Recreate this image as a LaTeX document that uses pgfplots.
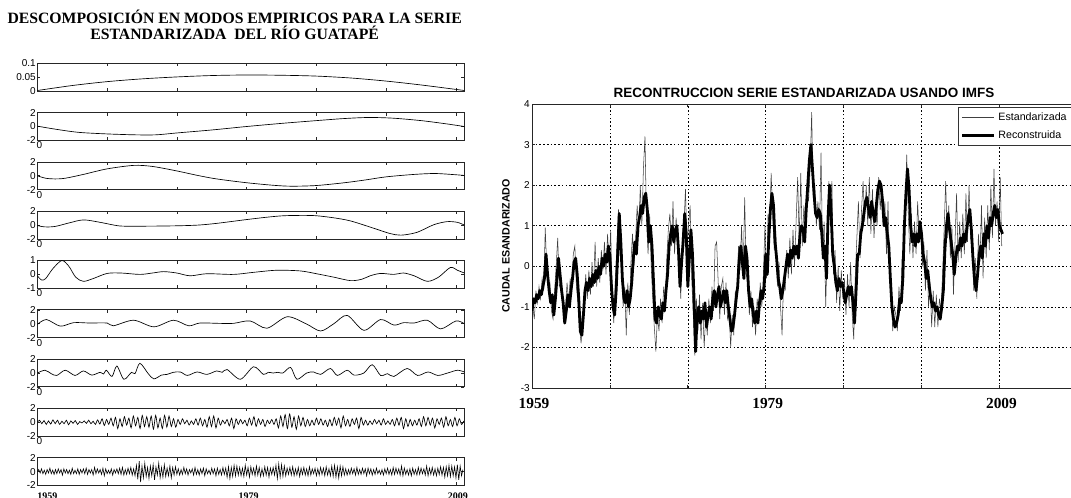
\documentclass[border=0pt]{standalone}
\usepackage{fontspec}
\setmainfont{Liberation Sans}
\newfontfamily\tnr{Liberation Serif}
\usepackage{pgfplots}
\pgfplotsset{compat=1.18}
\pgfplotsset{
  imf/.style={
    scale only axis, width=320.25pt, height=20.8pt,
    anchor=north west,
    xmin=0, xmax=612, xtick={0,100,...,600},
    tick align=inside, tick pos=both, major tick length=2.25pt,
    axis line style={line width=0.6pt, black!85},
    every tick/.style={black!85, line width=0.5pt},
    yticklabel style={font=\fontsize{7.5}{8}\selectfont, inner sep=1pt},
    xticklabel style={font=\fontsize{7.5}{8}\selectfont, inner sep=1pt, xshift=1.5pt},
    ytick={-2,0,2}, yticklabels={-2,0,2}, ymin=-2, ymax=2,
    xticklabels={0,,,,,,},
  },
  imfline/.style={black, line width=0.5pt, no markers},
}
\begin{document}
\begin{tikzpicture}
\path[use as bounding box] (0pt,0pt) rectangle (803.25pt,-372.75pt);
\clip (0pt,0pt) rectangle (803.25pt,-372.75pt);

% Left title
\node[font=\tnr\bfseries\fontsize{11.8}{12}\selectfont, align=center] at (176pt,-18.5pt)
  {DESCOMPOSICIÓN EN MODOS EMPIRICOS PARA LA SERIE\\ESTANDARIZADA\ \ DEL RÍO GUATAPÉ};

% Subplot 1 (residue)
\begin{axis}[imf, at={(28pt,-47.5pt)}, ymin=0, ymax=0.1, ytick={0,0.05,0.1}, yticklabels={0,0.05,0.1}, xticklabels={,,,,,,}]
\addplot[imfline, smooth] coordinates {(0,0.002) (50,0.02) (100,0.034) (150,0.044) (200,0.051) (250,0.056) (300,0.058) (350,0.057) (400,0.054) (450,0.047) (500,0.036) (550,0.022) (600,0.006) (612,0.002)};
\end{axis}

% Subplot 2
\begin{axis}[imf, at={(28pt,-84.475pt)}]
\addplot[imfline, smooth] coordinates {(0,0.05) (30,-0.45) (60,-0.85) (100,-1.07) (140,-1.2) (170,-1.2) (200,-0.93) (250,-0.5) (300,0.0) (350,0.45) (400,0.85) (440,1.15) (475,1.3) (510,1.2) (550,0.85) (585,0.4) (612,0.0)};
\end{axis}

% Subplot 3
\begin{axis}[imf, at={(28pt,-121.45pt)}]
\addplot[imfline, smooth] coordinates {(0,0) (12,-0.35) (25,-0.45) (40,-0.35) (66,0.2) (100,1.0) (138,1.5) (165,1.35) (200,0.7) (230,0.05) (257,-0.45) (300,-1.0) (340,-1.38) (365,-1.5) (400,-1.4) (440,-1.0) (470,-0.6) (500,-0.15) (540,0.2) (570,0.33) (600,0.15) (612,0.05)};
\end{axis}

% Subplot 4
\begin{axis}[imf, at={(28pt,-158.425pt)}]
\addplot[imfline, smooth] coordinates {(0,-0.05) (10,-0.25) (25,-0.2) (45,0.3) (66,0.75) (90,0.4) (110,0.0) (123,-0.15) (160,-0.15) (200,-0.1) (230,0.0) (257,0.25) (300,0.8) (330,1.15) (353,1.35) (380,1.4) (400,1.35) (425,1.05) (449,0.6) (482,-0.45) (505,-1.2) (521,-1.45) (544,-1.05) (568,0.05) (587,0.5) (602,0.4) (612,0.0)};
\end{axis}

% Subplot 5
\begin{axis}[imf, at={(28pt,-195.4pt)}, ymin=-1, ymax=1, ytick={-1,0,1}, yticklabels={-1,0,1}]
\addplot[imfline, smooth] coordinates {(0,-0.1) (6,-0.4) (12,-0.3) (22,0.4) (35,1.0) (45,0.6) (55,-0.2) (66,-0.5) (80,-0.3) (100,0.07) (120,0.1) (147,0.0) (165,0.1) (181,0.2) (200,0.1) (219,-0.1) (243,0.05) (281,0.0) (310,0.15) (343,0.3) (377,0.25) (400,0.05) (425,-0.2) (449,-0.45) (465,-0.35) (477,-0.1) (492,0.07) (511,0.0) (525,0.1) (540,-0.1) (559,-0.5) (575,-0.2) (592,0.5) (602,0.3) (612,0.1)};
\end{axis}

% Subplot 6
\begin{axis}[imf, at={(28pt,-232.375pt)}]
\addplot[imfline, smooth] coordinates {(0,-0.1) (13,0.6) (33,-0.35) (52,0.15) (75,0.1) (100,0.1) (109,-0.3) (138,0.5) (167,-0.45) (195,0.5) (217,-0.3) (233,0.1) (260,0.05) (281,0.05) (305,0.4) (329,-0.65) (358,1.0) (385,0.0) (406,-1.05) (425,0.0) (444,1.2) (468,-0.95) (492,0.6) (511,-0.2) (525,0.15) (540,0.1) (559,0.5) (578,-0.75) (600,0.4) (612,0.0)};
\end{axis}

% Subplot 7
\begin{axis}[imf, at={(28pt,-269.35pt)}]
\addplot[imfline, smooth] coordinates {(0,0) (11,0.4) (20,-0.1) (28,-0.35) (40,0.4) (54,-0.35) (66,0.3) (78,-0.3) (90,0.1) (95,-0.15) (99,0.4) (107,-0.5) (114,1.0) (124,-0.9) (135,0.1) (140,-0.1) (147,1.4) (159,-0.1) (167,-0.85) (178,-0.3) (186,-0.2) (195,0.1) (205,0.15) (215,-0.35) (229,0.15) (243,-0.2) (257,0.3) (265,0.1) (272,0.5) (291,-0.9) (310,0.9) (324,-0.2) (331,0.1) (338,0.0) (345,0.1) (352,0.0) (363,0.8) (372,-0.9) (386,0.0) (396,0.15) (406,-0.2) (420,0.65) (430,-0.35) (444,0.4) (454,-0.3) (468,0.0) (480,1.2) (492,-0.35) (502,-0.1) (511,-0.5) (530,0.65) (545,-0.35) (560,0.15) (574,-0.35) (588,0.0) (602,0.4) (612,0.15)};
\end{axis}

% Subplot 8
\begin{axis}[imf, at={(28pt,-306.325pt)}]
\addplot[imfline, smooth] table[row sep=\\, header=false, x expr=\coordindex*3.2, y index=0] {
0\\0.3\\-0.2\\0.25\\-0.3\\0.2\\-0.25\\0.35\\-0.2\\0.3\\-0.3\\0.15\\-0.2\\0.3\\-0.35\\0.2\\-0.15\\0.25\\-0.3\\
0.1\\-0.1\\0.2\\-0.15\\0.3\\-0.2\\0.15\\-0.3\\0.35\\-0.25\\0.5\\-0.45\\0.4\\-0.3\\0.6\\-0.5\\
0.7\\-0.9\\0.5\\-0.6\\0.8\\-0.4\\
0.6\\-0.8\\0.9\\-0.5\\0.7\\-0.9\\1.0\\-0.6\\0.8\\-0.7\\0.9\\-1.0\\1.0\\-0.8\\0.6\\-0.9\\1.0\\-0.7\\0.9\\-0.6\\0.5\\-0.7\\
0.4\\-0.3\\0.5\\-0.2\\0.3\\-0.4\\0.2\\-0.3\\0.5\\-0.4\\0.6\\-0.5\\0.4\\
-0.7\\0.8\\-0.6\\0.9\\-0.8\\0.6\\-0.4\\
0.3\\-0.2\\0.4\\-0.5\\0.6\\-0.9\\0.5\\-0.3\\0.4\\-0.2\\0.3\\
-0.5\\0.6\\-0.4\\0.8\\-0.6\\0.5\\-0.3\\0.4\\-0.6\\0.3\\-0.2\\0.4\\-0.3\\
0.5\\-0.8\\0.9\\-0.6\\1.1\\-0.9\\1.2\\-0.7\\0.8\\-1.0\\0.9\\-0.5\\0.7\\-0.6\\0.4\\
-0.5\\0.3\\-0.4\\0.6\\-0.3\\0.5\\-0.4\\0.3\\-0.6\\0.4\\
-0.5\\0.7\\-0.4\\0.6\\-0.8\\0.9\\-0.5\\0.4\\-0.6\\0.5\\-0.3\\0.6\\-0.9\\0.7\\-0.4\\
0.3\\-0.4\\0.2\\-0.3\\0.4\\-0.2\\0.3\\-0.4\\0.5\\-0.3\\0.2\\-0.3\\0.4\\
-0.5\\0.6\\-0.4\\0.7\\-0.9\\0.5\\-0.6\\0.4\\-0.5\\0.3\\-0.4\\0.5\\
-0.6\\0.8\\-0.5\\0.7\\-0.4\\0.6\\-0.8\\0.5\\-0.3\\0.6\\-0.7\\0.8\\-0.5\\0.4\\-0.6\\0.7\\-0.5\\0.5\\-0.3\\0.2\\
};
\end{axis}

% Subplot 9
\begin{axis}[imf, at={(28pt,-343.3pt)}, xticklabels={\makebox[0pt][l]{\hspace{-1.5pt}1959},,,1979,,,2009}, xticklabel style={font=\tnr\bfseries\fontsize{7.5}{8}\selectfont, inner sep=1pt, xshift=0pt, yshift=-4.5pt}]
\addplot[imfline, line width=0.45pt] table[row sep=\\, header=false, x expr=\coordindex*2, y index=0] {
0\\0.3\\-0.2\\0.4\\-0.3\\0.2\\-0.4\\0.3\\-0.2\\0.5\\
-0.3\\0.2\\-0.4\\0.3\\-0.3\\0.4\\-0.2\\0.3\\-0.5\\0.4\\
-0.2\\0.3\\-0.3\\0.2\\-0.4\\0.5\\-0.3\\0.2\\-0.3\\0.4\\
-0.4\\0.3\\-0.2\\0.4\\-0.3\\0.5\\-0.4\\0.3\\-0.2\\0.3\\
-0.5\\0.6\\-0.3\\0.4\\-0.2\\0.3\\-0.4\\0.5\\-0.6\\0.4\\
-0.3\\0.2\\-0.3\\0.4\\-0.5\\0.3\\-0.2\\0.4\\-0.3\\0.5\\
-0.4\\0.6\\-0.5\\0.3\\-0.4\\0.5\\-0.3\\0.6\\-0.5\\0.4\\
-0.6\\
0.9\\-1.1\\1.5\\-1.5\\0.8\\-0.9\\1.2\\-0.7\\0.6\\-1.0\\
0.8\\-0.6\\1.0\\-1.2\\0.7\\-0.5\\1.2\\-0.9\\0.6\\-0.8\\1.0\\-0.7\\0.5\\-0.6\\0.8\\-0.9\\0.6\\-0.5\\0.7\\-0.4\\
0.4\\-0.5\\0.3\\-0.4\\0.6\\-0.3\\0.4\\-0.5\\0.3\\-0.2\\0.4\\-0.5\\0.6\\-0.4\\0.3\\-0.5\\0.4\\-0.3\\0.5\\-0.6\\0.4\\-0.3\\0.2\\-0.4\\0.5\\-0.3\\0.4\\-0.6\\0.5\\-0.4\\0.3\\-0.5\\0.6\\-0.4\\0.5\\
-0.8\\0.7\\-1.0\\0.6\\-0.7\\0.9\\-0.6\\0.8\\-0.5\\0.6\\
-0.6\\0.5\\-0.7\\0.9\\-0.5\\0.6\\-0.8\\0.7\\-0.4\\0.5\\-0.6\\0.8\\-0.5\\0.6\\-0.7\\0.4\\-0.6\\0.7\\-0.5\\0.6\\-0.8\\0.5\\-0.4\\0.6\\-0.5\\
0.9\\-1.0\\1.1\\-0.8\\1.0\\-0.7\\0.8\\
-0.6\\0.5\\-0.4\\0.6\\-0.5\\0.7\\-0.6\\0.4\\-0.5\\0.6\\-0.7\\0.5\\-0.4\\0.6\\-0.5\\0.4\\-0.6\\0.7\\-0.5\\0.4\\-0.3\\0.5\\-0.6\\0.4\\-0.5\\0.6\\-0.4\\0.5\\-0.6\\0.7\\-0.5\\0.4\\-0.6\\
0.8\\-0.7\\0.9\\-0.8\\0.7\\-0.9\\0.8\\-0.6\\0.7\\-0.5\\
0.4\\-0.5\\0.3\\-0.4\\0.5\\-0.3\\0.4\\-0.5\\0.6\\-0.4\\
0.3\\-0.4\\0.5\\-0.3\\0.4\\-0.6\\0.5\\-0.3\\0.4\\-0.5\\
0.3\\-0.4\\0.5\\-0.3\\0.2\\-0.4\\0.3\\-0.5\\0.4\\-0.3\\
0.5\\-0.4\\0.3\\-0.5\\0.6\\-0.4\\0.5\\-0.3\\0.4\\-0.5\\
0.8\\-0.6\\0.5\\-0.4\\0.3\\-0.5\\0.4\\-0.6\\0.5\\-0.4\\
0.3\\-0.5\\0.6\\-0.4\\0.5\\-0.3\\0.4\\-0.5\\0.8\\-0.6\\
0.5\\-0.4\\0.6\\-0.5\\0.4\\-0.6\\0.5\\-0.4\\0.7\\-0.5\\
0.6\\-0.8\\0.7\\-0.6\\0.9\\-0.7\\0.8\\-0.6\\0.7\\-0.9\\1.0\\-1.2\\0.8\\-0.6\\0.3\\
};
\end{axis}

% Right panel
\node[font=\bfseries\fontsize{10.1}{12}\selectfont] at (603pt,-69.75pt) {RECONTRUCCION SERIE ESTANDARIZADA USANDO IMFS};
\node[font=\bfseries\fontsize{8}{9}\selectfont, rotate=90] at (379.5pt,-184.5pt) {CAUDAL ESANDARIZADO};

\begin{axis}[at={(399pt,-291pt)}, anchor=south west, scale only axis, width=409pt, height=213pt,
  xmin=0, xmax=700, ymin=-3, ymax=4,
  xtick={0,100,...,700}, xticklabels={1959,,,1979,,,2009,},
  ytick={-3,-2,-1,0,1,2,3,4}, yticklabels={-3,-2,-1,0,1,2,3,4},
  tick align=inside, tick pos=both, major tick length=2.5pt,
  axis line style={line width=0.6pt, black!85},
  every tick/.style={black!85, line width=0.5pt},
  grid=major, major grid style={black, line width=0.4pt, dash pattern=on 1.2pt off 1.6pt},
  xticklabel style={font=\tnr\bfseries\fontsize{11.5}{12}\selectfont, inner sep=1pt, yshift=-6.5pt, xshift=1.5pt},
  yticklabel style={font=\fontsize{7.5}{8}\selectfont, inner sep=1.5pt},
  legend style={at={(1,1)}, anchor=north east, xshift=-3.75pt, yshift=-2.25pt,
    font=\fontsize{8}{9}\selectfont, draw=black!80, line width=0.5pt,
    inner xsep=2pt, inner ysep=2pt, row sep=2pt},
  legend cell align=left,
  legend image code/.code={\draw[#1] (0pt,0pt) -- (24pt,0pt);},
]
\addplot[black!75, line width=0.4pt] table[row sep=\\, header=false, x expr=1+\coordindex*2, y index=0] {
-1.0\\-1.3\\-0.6\\-0.9\\-0.5\\-0.8\\-0.3\\-0.6\\0.95\\-0.1\\
-0.5\\-0.4\\-1.1\\-1.3\\-0.6\\0.0\\0.7\\-0.5\\-0.4\\-0.9\\
-1.2\\-1.0\\-0.4\\-0.9\\-0.3\\-0.7\\0.3\\0.5\\-0.5\\-0.9\\
-1.5\\-1.9\\-1.4\\-0.8\\-0.2\\-0.8\\-0.1\\-0.7\\0.1\\-0.5\\
0.6\\-0.5\\0.2\\-0.4\\0.4\\-0.1\\0.6\\-0.2\\0.8\\0.0\\
0.9\\-0.8\\-1.4\\-0.3\\0.5\\1.4\\0.3\\0.0\\-1.0\\-0.5\\
-1.7\\-0.4\\-1.2\\0.1\\0.8\\0.0\\0.7\\1.5\\0.8\\2.0\\
1.0\\2.4\\3.2\\1.1\\0.3\\1.3\\0.0\\-0.8\\-1.5\\-2.1\\
-1.2\\-1.6\\-0.8\\-1.4\\-0.5\\-0.9\\0.2\\0.9\\1.3\\0.5\\
1.6\\0.3\\1.2\\0.5\\0.0\\-0.8\\0.8\\1.0\\1.9\\0.4\\
1.0\\1.5\\-0.3\\-1.2\\-2.2\\-0.8\\-1.6\\-0.7\\-1.8\\-0.9\\
-2.0\\-1.2\\-1.7\\-0.8\\-1.4\\-0.5\\-1.1\\0.5\\0.6\\-0.4\\
-1.3\\-0.5\\-0.3\\-1.2\\-0.4\\-1.3\\-1.1\\-2.0\\-1.2\\-1.7\\
-0.6\\-0.9\\0.5\\-0.1\\1.0\\-0.2\\1.7\\-0.2\\-0.4\\-1.2\\
-0.6\\-1.5\\-1.0\\-1.7\\-0.8\\-1.2\\-0.4\\-1.0\\-0.2\\1.0\\
-0.3\\1.3\\1.0\\2.3\\1.2\\0.4\\0.8\\-0.5\\0.1\\-1.0\\
-1.7\\-0.3\\-0.6\\0.4\\-0.3\\0.7\\-0.2\\0.9\\0.0\\1.1\\
2.2\\0.6\\2.3\\0.5\\1.5\\0.9\\1.9\\1.6\\2.4\\3.8\\
1.7\\2.0\\1.0\\1.6\\0.9\\2.8\\0.3\\1.1\\-1.0\\0.5\\
2.1\\1.5\\2.1\\-0.2\\0.4\\-0.9\\0.0\\-1.1\\-0.1\\-0.8\\
-0.3\\-1.2\\-0.2\\-1.0\\0.1\\-1.2\\-1.8\\-0.2\\0.7\\1.6\\
0.2\\1.4\\2.1\\1.1\\2.0\\1.0\\2.2\\0.8\\1.9\\0.7\\
1.4\\1.0\\2.2\\1.4\\2.0\\1.0\\1.6\\0.3\\1.6\\-0.2\\
-0.6\\-1.6\\-1.0\\-1.2\\-1.6\\-0.5\\-1.1\\0.2\\0.5\\1.4\\
2.75\\1.3\\0.3\\1.3\\0.2\\1.1\\0.3\\1.6\\0.7\\1.0\\
0.0\\0.6\\-0.6\\0.4\\-1.0\\-0.4\\-1.5\\-0.6\\-1.5\\-0.7\\
-1.5\\-0.8\\-1.1\\-0.2\\0.9\\2.1\\0.7\\1.5\\0.2\\1.0\\
-0.7\\0.6\\1.8\\0.1\\1.1\\0.2\\1.3\\0.3\\1.8\\0.6\\
2.0\\0.7\\0.5\\-0.6\\0.2\\-0.8\\0.8\\0.1\\1.5\\-0.3\\
1.2\\0.2\\1.5\\0.4\\2.0\\0.7\\2.4\\1.0\\1.6\\0.6\\
2.2\\0.5\\
};
\addlegendentry{Estandarizada}
\addplot[black, line width=2.1pt, line join=round] table[row sep=\\, header=false, x expr=\coordindex*2, y index=0] {
-1.1\\-0.8\\-0.9\\-0.7\\-0.8\\-0.6\\-0.7\\-0.5\\-0.3\\0.3\\
-0.2\\-0.6\\-0.9\\-0.7\\-1.2\\-0.8\\-0.3\\0.2\\-0.2\\-0.6\\
-0.9\\-1.4\\-1.1\\-0.7\\-1.0\\-0.6\\-0.3\\0.1\\0.2\\-0.2\\
-0.8\\-1.6\\-1.7\\-1.2\\-0.6\\-0.4\\-0.6\\-0.3\\-0.5\\-0.2\\
-0.4\\-0.1\\-0.3\\0.0\\-0.2\\0.2\\0.0\\0.3\\0.1\\0.5\\
0.2\\-0.5\\-1.0\\-1.2\\-0.6\\0.3\\1.3\\0.6\\-0.3\\-0.8\\
-0.9\\-0.6\\-1.0\\-0.8\\-0.4\\0.2\\0.6\\0.3\\1.0\\1.2\\
1.5\\1.3\\1.7\\1.8\\1.4\\0.6\\1.0\\0.5\\-0.4\\-1.3\\
-1.4\\-1.0\\-1.2\\-1.3\\-0.9\\-1.1\\-0.6\\-0.2\\0.5\\0.8\\
1.0\\0.6\\0.9\\1.0\\0.4\\-0.5\\0.1\\0.6\\1.3\\0.8\\
-0.5\\0.2\\0.9\\0.3\\-0.8\\-2.1\\-1.2\\-1.0\\-1.4\\-1.1\\
-1.3\\-0.9\\-1.5\\-1.2\\-1.0\\-1.3\\-0.8\\-0.6\\-1.0\\-0.7\\
-0.5\\-1.0\\-0.8\\-0.6\\-0.9\\-0.6\\-1.0\\-1.3\\-1.6\\-1.5\\
-1.2\\-0.8\\-0.5\\0.2\\0.5\\0.1\\-0.3\\0.5\\0.2\\-0.6\\
-1.0\\-0.8\\-1.2\\-1.4\\-1.1\\-1.4\\-0.9\\-0.6\\-0.8\\-0.5\\
0.3\\-0.2\\0.7\\1.4\\1.8\\1.5\\0.6\\0.2\\-0.3\\-0.5\\
-0.8\\-0.6\\-0.3\\0.0\\0.3\\0.0\\0.4\\0.2\\0.5\\0.3\\
0.5\\0.2\\0.8\\1.0\\0.9\\0.6\\1.4\\2.0\\2.6\\3.0\\
2.4\\1.8\\1.3\\1.2\\1.4\\1.3\\0.8\\0.2\\0.5\\-0.3\\
1.2\\2.0\\1.3\\0.3\\0.0\\-0.4\\-0.6\\-0.3\\-0.5\\-0.4\\
-0.6\\-0.9\\-0.7\\-0.5\\-0.7\\-0.5\\-0.9\\-1.4\\-0.6\\0.3\\
0.3\\0.8\\1.0\\1.3\\1.6\\1.7\\1.4\\1.2\\1.6\\1.3\\
1.1\\1.5\\1.9\\2.1\\2.0\\1.6\\1.0\\1.2\\0.8\\0.5\\
-0.3\\-1.0\\-1.3\\-1.5\\-1.4\\-1.2\\-0.8\\-0.9\\-0.3\\1.0\\
1.8\\2.4\\1.9\\1.0\\0.6\\0.8\\0.5\\0.8\\0.6\\1.1\\
0.8\\0.3\\0.1\\-0.3\\-0.1\\-0.5\\-0.8\\-1.0\\-0.9\\-1.1\\
-1.0\\-1.2\\-1.3\\-1.0\\-0.6\\0.4\\1.0\\1.3\\0.9\\0.6\\
0.3\\-0.2\\0.2\\0.5\\0.4\\0.7\\0.5\\0.8\\0.6\\0.9\\
1.2\\1.4\\0.9\\0.2\\-0.3\\-0.6\\-0.2\\0.3\\0.5\\0.2\\
0.8\\0.5\\1.0\\0.7\\1.2\\1.0\\1.3\\1.5\\1.2\\1.4\\
1.0\\0.9\\0.8\\
};
\addlegendentry{Reconstruida}
\end{axis}
\end{tikzpicture}
\end{document}
